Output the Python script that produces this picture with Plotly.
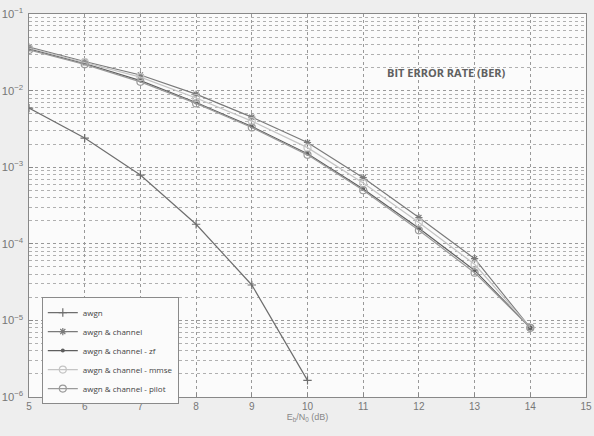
import plotly.graph_objects as go

snr_awgn = [5, 6, 7, 8, 9, 10]
ber_awgn = [5.9e-3, 2.4e-3, 7.9e-4, 1.8e-4, 2.9e-5, 1.65e-6]

snr = [5, 6, 7, 8, 9, 10, 11, 12, 13, 14]
ber_channel = [3.7e-2, 2.4e-2, 1.6e-2, 9.0e-3, 4.5e-3, 2.1e-3, 7.3e-4, 2.2e-4, 6.4e-5, 8.0e-6]
ber_zf = [3.5e-2, 2.25e-2, 1.35e-2, 7.0e-3, 3.4e-3, 1.5e-3, 5.2e-4, 1.6e-4, 4.5e-5, 8.0e-6]
ber_mmse = [3.6e-2, 2.35e-2, 1.5e-2, 8.0e-3, 4.0e-3, 1.8e-3, 6.2e-4, 1.9e-4, 5.4e-5, 8.0e-6]
ber_pilot = [3.4e-2, 2.2e-2, 1.3e-2, 6.8e-3, 3.3e-3, 1.45e-3, 5.0e-4, 1.5e-4, 4.2e-5, 8.0e-6]

fig = go.Figure()
fig.add_trace(go.Scatter(x=snr_awgn, y=ber_awgn, name="awgn", mode="lines+markers",
                         line=dict(color="#6e6e6e", width=1.2),
                         marker=dict(symbol="cross-thin-open", size=6, color="#6e6e6e", line=dict(width=1.2))))
fig.add_trace(go.Scatter(x=snr, y=ber_channel, name="awgn & channel", mode="lines+markers",
                         line=dict(color="#7a7a7a", width=1.2),
                         marker=dict(symbol="asterisk-open", size=6, color="#7a7a7a", line=dict(width=1.2))))
fig.add_trace(go.Scatter(x=snr, y=ber_zf, name="awgn & channel - zf", mode="lines+markers",
                         line=dict(color="#5e5e5e", width=1.2),
                         marker=dict(symbol="circle", size=4, color="#5e5e5e")))
fig.add_trace(go.Scatter(x=snr, y=ber_mmse, name="awgn & channel - mmse", mode="lines+markers",
                         line=dict(color="#c4c4c4", width=1.2),
                         marker=dict(symbol="circle-open", size=7, color="#c4c4c4", line=dict(width=1.2))))
fig.add_trace(go.Scatter(x=snr, y=ber_pilot, name="awgn & channel - pilot", mode="lines+markers",
                         line=dict(color="#9a9a9a", width=1.2),
                         marker=dict(symbol="circle-open", size=7, color="#9a9a9a", line=dict(width=1.2))))

fig.add_annotation(x=12.5, y=-1.76, xref="x", yref="y", text="<b>BIT ERROR RATE (BER)</b>",
                   showarrow=False, font=dict(family="Open Sans", size=11, color="#606060"))

fig.update_layout(
    width=594, height=436,
    margin=dict(l=29, r=8, t=14, b=39),
    paper_bgcolor="#eeeeee", plot_bgcolor="#fbfbfb",
    font=dict(family="Liberation Sans", size=9, color="#777777"),
    showlegend=True,
    legend=dict(x=0.023, y=0.261, xanchor="left", yanchor="top",
                bgcolor="#fbfbfb", bordercolor="#8a8a8a", borderwidth=1,
                font=dict(family="Open Sans", size=8, color="#444444"), tracegroupgap=0,
                itemwidth=30),
)
fig.update_xaxes(range=[5, 15], dtick=1, showgrid=True, gridcolor="#999999", griddash="dot",
                 gridwidth=1, zeroline=False, showline=True, linecolor="#888888", mirror=True,
                 ticks="inside", ticklen=4, tickcolor="#888888", automargin=False,
                 tickfont=dict(size=10), ticklabeloverflow="allow",
                 title=dict(text="E<sub>b</sub>/N<sub>0</sub> (dB)", font=dict(size=9, color="#888888"), standoff=2))
fig.update_yaxes(type="log", range=[-6, -1], dtick=1, exponentformat="power", showexponent="all",
                 showgrid=True, gridcolor="#999999", griddash="dot", gridwidth=1,
                 minor=dict(showgrid=True, dtick="D1", gridcolor="#b0b0b0", griddash="dot", ticks=""),
                 zeroline=False, showline=True, linecolor="#888888", mirror=True,
                 ticks="inside", ticklen=4, tickcolor="#888888", automargin=False, ticklabelstandoff=3)

fig.write_html("out.html", config={"displayModeBar": False},
               post_script="document.body.style.margin='0';document.body.style.background='#eeeeee';")
